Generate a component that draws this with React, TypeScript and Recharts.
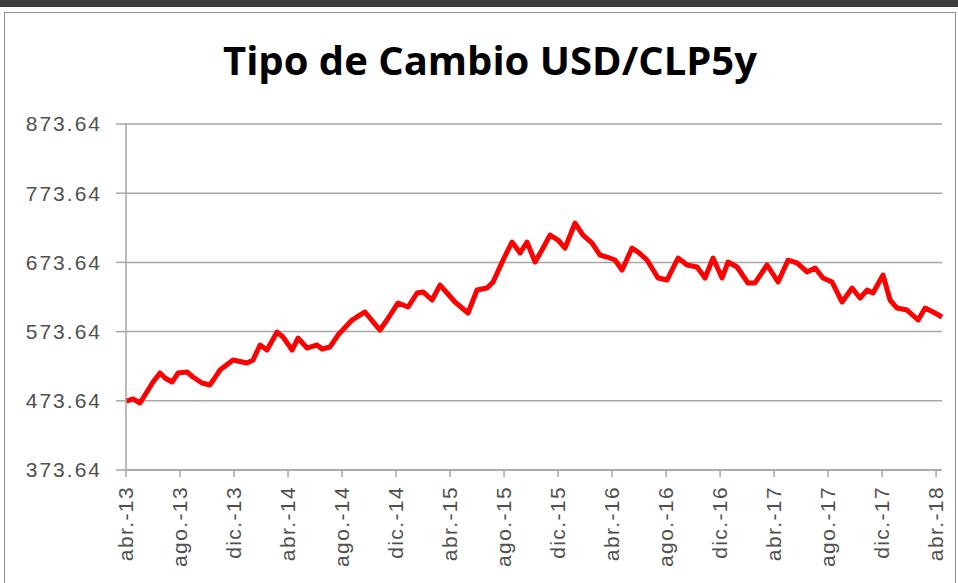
import React from "react";
import { LineChart, Line, XAxis, YAxis, CartesianGrid } from "recharts";

// months elapsed since abr.-13 (fractional)
const months = [
  0.0, 0.52, 1.04, 2.0, 2.52, 2.89, 3.41, 3.85, 4.52, 4.96, 5.63, 6.22, 6.96,
  7.93, 8.96, 9.41, 9.93, 10.44, 11.19, 11.63, 12.3, 12.74, 13.41, 14.15,
  14.52, 15.11, 15.7, 16.74, 17.7, 18.81, 19.33, 20.15, 20.89, 21.56, 22.0,
  22.67, 23.26, 23.78, 24.37, 25.33, 26.0, 26.74, 27.19, 27.93, 28.59, 29.19,
  29.7, 30.3, 30.81, 31.41, 32.0, 32.52, 33.26, 33.85, 34.52, 35.11, 35.63,
  36.22, 36.74, 37.48, 37.93, 38.59, 39.41, 40.07, 40.89, 41.56, 42.3, 42.89,
  43.48, 44.15, 44.59, 45.26, 46.07, 46.59, 47.48, 48.3, 49.04, 49.7, 50.44,
  51.04, 51.63, 52.3, 53.04, 53.78, 54.37, 54.89, 55.33, 56.07, 56.59, 57.11,
  57.85, 58.67, 59.19, 59.78, 60.44,
];

const usdClp = [
  473.3, 476.2, 470.5, 500.8, 513.8, 506.6, 500.8, 513.8, 515.3, 508.0, 499.4,
  496.5, 518.1, 532.6, 528.3, 532.6, 554.3, 547.0, 573.0, 565.8, 547.0, 564.4,
  549.9, 554.3, 548.5, 551.4, 568.7, 590.4, 602.0, 575.9, 590.4, 615.0, 609.2,
  629.4, 630.9, 619.3, 640.9, 629.4, 616.4, 600.5, 633.7, 636.6, 645.3, 677.1,
  703.1, 687.2, 703.1, 674.2, 691.5, 713.2, 706.0, 694.4, 730.5, 713.2, 701.6,
  684.3, 681.4, 677.1, 662.6, 694.4, 688.6, 677.1, 651.1, 648.2, 680.0, 669.9,
  667.0, 651.1, 680.0, 651.1, 674.2, 667.0, 643.9, 643.9, 669.9, 645.3, 677.1,
  672.8, 659.8, 665.5, 651.1, 645.3, 616.4, 636.6, 622.2, 633.7, 629.4, 655.4,
  619.3, 607.7, 604.8, 590.4, 607.7, 602.0, 594.7,
];

const xTicks = [0, 4, 8, 12, 16, 20, 24, 28, 32, 36, 40, 44, 48, 52, 56, 60];
const xLabels = [
  "abr.-13", "ago.-13", "dic.-13", "abr.-14", "ago.-14", "dic.-14",
  "abr.-15", "ago.-15", "dic.-15", "abr.-16", "ago.-16", "dic.-16",
  "abr.-17", "ago.-17", "dic.-17", "abr.-18",
];
const yTicks = [373.64, 473.64, 573.64, 673.64, 773.64, 873.64];

const data = months.map((m, i) => ({ m, v: usdClp[i] }));

const FONT = "'Liberation Sans', Arial, sans-serif";

const XTick = (props: any) => {
  const { x, payload } = props;
  const idx = xTicks.indexOf(payload.value);
  return (
    <text
      transform={`translate(${x},486) rotate(-90)`}
      textAnchor="end"
      dy="0.35em"
      fontFamily={FONT}
      fontSize={21}
      letterSpacing={1.4}
      fill="#505050"
    >
      {xLabels[idx]}
    </text>
  );
};

export default function App() {
  return (
    <div
      style={{
        position: "absolute",
        left: 0,
        top: 0,
        width: 958,
        height: 583,
        background: "#fff",
        overflow: "hidden",
      }}
    >
      {/* frame pieces from the screenshot */}
      <div style={{ position: "absolute", left: 0, top: 0, width: 958, height: 7, background: "#3c3c3c" }} />
      <div
        style={{
          position: "absolute",
          left: 4,
          top: 12,
          width: 950,
          height: 580,
          border: "1px solid #8c8c8c",
        }}
      />
      <div
        style={{
          position: "absolute",
          left: 0,
          width: 980,
          top: 32,
          textAlign: "center",
          fontFamily: "'Open Sans', sans-serif",
          fontWeight: 700,
          fontSize: 40,
          color: "#000",
        }}
      >
        Tipo de Cambio USD/CLP5y
      </div>
      <div style={{ position: "absolute", left: 0, top: 0 }}>
        <LineChart
          width={958}
          height={583}
          data={data}
          margin={{ top: 124, right: 16, left: 0, bottom: 0 }}
        >
          <CartesianGrid vertical={false} stroke="#a6a6a6" strokeWidth={1.5} />
          <XAxis
            dataKey="m"
            type="number"
            domain={[0, 60.44]}
            ticks={xTicks}
            height={113}
            tickSize={7}
            tick={<XTick />}
            stroke="#a6a6a6"
            strokeWidth={1.5}
            interval={0}
          />
          <YAxis
            type="number"
            domain={[373.64, 873.64]}
            ticks={yTicks}
            width={126}
            tickSize={10}
            tickMargin={14}
            tickFormatter={(v: number) => v.toFixed(2)}
            tick={{ fontFamily: FONT, fontSize: 21, fill: "#505050", letterSpacing: 2 }}
            stroke="#a6a6a6"
            strokeWidth={1.5}
            interval={0}
          />
          <Line
            dataKey="v"
            type="linear"
            stroke="#ff0000"
            strokeWidth={5}
            strokeLinejoin="round"
            dot={false}
            isAnimationActive={false}
          />
        </LineChart>
      </div>
    </div>
  );
}
